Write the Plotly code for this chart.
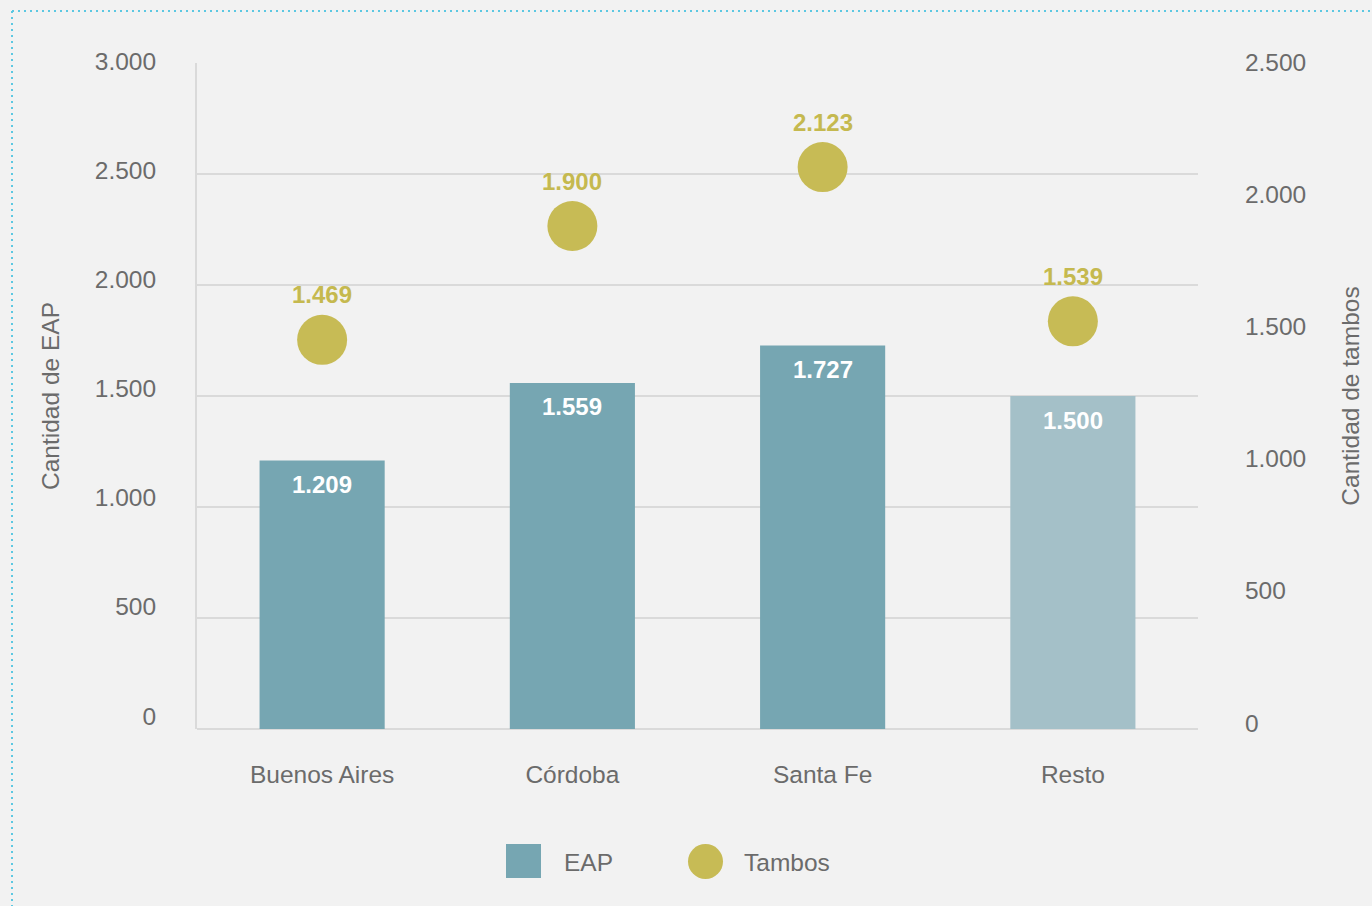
import plotly.graph_objects as go

categories = ["Buenos Aires", "Córdoba", "Santa Fe", "Resto"]
eap_values = [1209, 1559, 1727, 1500]
tambos_values = [1469, 1900, 2123, 1539]
series_names = ["EAP", "Tambos"]
left_ticks = [0, 500, 1000, 1500, 2000, 2500, 3000]
right_ticks = [0, 500, 1000, 1500, 2000, 2500]

BAR = "#76a6b2"
BAR_LIGHT = "#a4c0c8"
DOT = "#c7bb55"
LABEL_DOT = "#c5b94f"
GRID = "#dadada"
TXT = "#6b6b6b"
BG = "#f2f2f2"
FONT = "Liberation Sans, Arial, sans-serif"
FS = 24.5
FS_LBL = 24

W, H = 1372, 906
L, R, T, B = 197, 174, 63, 177
PW, PH = W - L - R, H - T - B


def px_x(p):
    return (p - L) / PW


def px_y(q):
    return (H - B - q) / PH


def fmt(v):
    return f"{v:,}".replace(",", ".")


bar_colors = [BAR, BAR, BAR, BAR_LIGHT]

fig = go.Figure()
fig.add_trace(go.Bar(
    x=categories, y=eap_values, name=series_names[0],
    marker=dict(color=bar_colors, line=dict(width=0)),
    width=0.5, showlegend=False, hoverinfo="x+y",
))
fig.add_trace(go.Scatter(
    x=categories, y=tambos_values, name=series_names[1], yaxis="y2",
    mode="markers",
    marker=dict(size=50, color=DOT, line=dict(width=0)),
    cliponaxis=False, showlegend=False,
))
# transparent companion trace so that the left label axis is drawn
fig.add_trace(go.Scatter(
    x=categories, y=eap_values, yaxis="y3", mode="markers",
    marker=dict(size=1, opacity=0), hoverinfo="skip", showlegend=False,
))

fig.update_layout(
    width=W, height=H,
    margin=dict(l=L, r=R, t=T, b=B, autoexpand=False),
    paper_bgcolor=BG, plot_bgcolor=BG,
    separators=",.",
    font=dict(family=FONT, size=FS, color=TXT),
    xaxis=dict(
        type="category", showgrid=False, zeroline=False,
        showline=False,
        ticks="outside", ticklen=24, tickcolor="rgba(0,0,0,0)",
        tickfont=dict(family=FONT, size=FS, color=TXT),
    ),
    yaxis=dict(
        range=[0, 3000], tickvals=left_ticks, showticklabels=False,
        showgrid=True, gridcolor=GRID, gridwidth=2,
        zeroline=False,
        showline=True, linecolor=GRID, linewidth=2,
    ),
    yaxis2=dict(
        range=[-4, 2517], tickvals=right_ticks, tickformat=",d",
        overlaying="y", side="right", showgrid=False, zeroline=False,
        showline=False,
        ticks="outside", ticklen=41, tickcolor="rgba(0,0,0,0)",
        ticklabelshift=-5,
        tickfont=dict(family=FONT, size=FS, color=TXT),
        title=dict(text="Cantidad de tambos", standoff=36,
                   font=dict(family=FONT, size=FS, color=TXT)),
    ),
    yaxis3=dict(
        range=[-45.8, 3004.6], tickvals=left_ticks, tickformat=",d",
        overlaying="y", side="left", showgrid=False, zeroline=False,
        showline=False,
        ticks="outside", ticklen=35, tickcolor="rgba(0,0,0,0)",
        ticklabelshift=-3,
        tickfont=dict(family=FONT, size=FS, color=TXT),
        title=dict(text="Cantidad de EAP", standoff=28,
                   font=dict(family=FONT, size=FS, color=TXT)),
    ),
)

shapes = []
shapes.append(dict(type="line", xref="paper", yref="paper", x0=0, x1=1, y0=0, y1=0,
                   line=dict(color=GRID, width=2), layer="below"))
dot_line = dict(color="#5cc8e2", width=2, dash="2px,4px")
shapes.append(dict(type="line", xref="paper", yref="paper",
                   x0=px_x(12), x1=px_x(1372), y0=px_y(11), y1=px_y(11), line=dot_line))
shapes.append(dict(type="line", xref="paper", yref="paper",
                   x0=px_x(12), x1=px_x(12), y0=px_y(11), y1=px_y(906), line=dot_line))
shapes.append(dict(type="rect", xref="paper", yref="paper",
                   x0=px_x(506), x1=px_x(541), y0=px_y(844), y1=px_y(878),
                   fillcolor=BAR, line=dict(width=0)))
shapes.append(dict(type="circle", xref="paper", yref="paper",
                   x0=px_x(688), x1=px_x(723), y0=px_y(844), y1=px_y(879),
                   fillcolor=DOT, line=dict(width=0)))
fig.update_layout(shapes=shapes)

annotations = [
    dict(text=series_names[0], xref="paper", yref="paper", x=px_x(562), y=px_y(862),
         xanchor="left", yanchor="middle", showarrow=False,
         font=dict(family=FONT, size=FS, color=TXT)),
    dict(text=series_names[1], xref="paper", yref="paper", x=px_x(742), y=px_y(862),
         xanchor="left", yanchor="middle", showarrow=False,
         font=dict(family=FONT, size=FS, color=TXT)),
]
for c, v in zip(categories, eap_values):
    annotations.append(dict(text=f"<b>{fmt(v)}</b>", x=c, y=v, xref="x", yref="y",
                            yshift=-24, xanchor="center", yanchor="middle",
                            showarrow=False,
                            font=dict(family=FONT, size=FS_LBL, color="white")))
for c, v in zip(categories, tambos_values):
    annotations.append(dict(text=f"<b>{fmt(v)}</b>", x=c, y=v, xref="x", yref="y2",
                            yshift=45, xanchor="center", yanchor="middle",
                            showarrow=False,
                            font=dict(family=FONT, size=FS_LBL, color=LABEL_DOT)))
fig.update_layout(annotations=annotations)

fig.write_html(
    "out.html",
    config={"displayModeBar": False},
    post_script="document.body.style.margin='0';document.body.style.background='#f2f2f2';",
)
